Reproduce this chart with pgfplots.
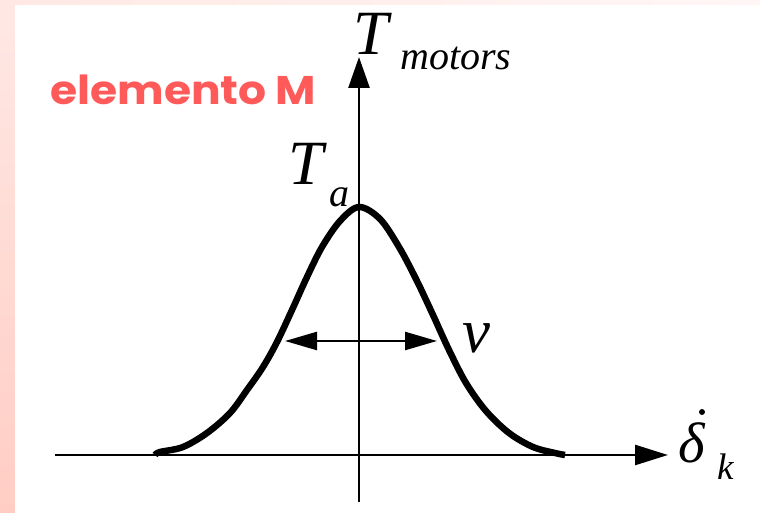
\documentclass[border=0pt]{standalone}
\usepackage{pgfplots}
\pgfplotsset{compat=1.18}
\usetikzlibrary{arrows.meta}
\usepackage{fontspec}
\setmainfont{Liberation Serif}
\newfontfamily\slidefont{Poppins}
\definecolor{slidered}{HTML}{FF5A5A}
\definecolor{pinktop}{HTML}{FFE8E4}
\definecolor{pinkbot}{HTML}{FFCDC4}
\definecolor{pinkband}{HTML}{FFF1EF}
\begin{document}
\begin{tikzpicture}
% slide background: white panel with a pink band at the top and a shaded strip on the left
\fill[white] (-55pt,-11pt) rectangle (705pt,502pt);
\shade[left color=pinktop, right color=pinkband!60!white] (-55pt,497pt) rectangle (705pt,502pt);
\shade[top color=pinktop, bottom color=pinkbot] (-55pt,-11pt) rectangle (-40pt,497pt);
\begin{axis}[
  at={(0pt,0pt)}, anchor=south west,
  x=1pt, y=1pt,
  xmin=-304, xmax=309, ymin=-47, ymax=398,
  axis lines=middle,
  xtick=\empty, ytick=\empty,
  axis line style={line width=2.6pt, black},
  x axis line style={-{Triangle[length=33pt,width=20pt]}},
  y axis line style={-{Triangle[length=31pt,width=21pt]}},
  clip=false,
]
% motor torque bell curve
\addplot[line width=6.5pt, black, smooth, tension=0.55] coordinates {
  (-204,0) (-199,3) (-176,8) (-152,22) (-129,42) (-112,65) (-96,88)
  (-82,113) (-67,145) (-52,178) (-37,208) (-19,234) (0,248)
  (21,236) (40,208) (57,176) (74,140) (90,105) (107,72) (127,44)
  (150,22) (174,8) (196,2) (206,0)
};
% width arrows
\draw[line width=2.4pt, {Triangle[length=32pt,width=18pt]}-{Triangle[length=32pt,width=18pt]}]
  (axis cs:-74,114) -- (axis cs:78,114);
% labels
\node[anchor=base west, inner sep=0, font=\fontsize{63}{63}\selectfont\itshape] at (axis cs:-6,400) {T};
\node[anchor=base west, inner sep=0, font=\fontsize{40}{40}\selectfont\itshape] at (axis cs:41,385) {motors};
\node[anchor=base west, inner sep=0, font=\fontsize{63}{63}\selectfont\itshape] at (axis cs:-71,270) {T};
\node[anchor=base west, inner sep=0, font=\fontsize{40}{40}\selectfont\itshape] at (axis cs:-30,248) {a};
\node[anchor=base west, inner sep=0, font=\fontsize{63}{63}\selectfont\itshape] at (axis cs:103,102) {ν};
\node[anchor=base west, inner sep=0, font=\fontsize{57}{57}\selectfont\itshape] at (axis cs:319,-8) {δ};
\fill (axis cs:343,43) circle[radius=3pt];
\node[anchor=base west, inner sep=0, font=\fontsize{37}{37}\selectfont\itshape] at (axis cs:358,-25) {k};
\node[anchor=base west, inner sep=0, xscale=1.1, text=slidered, font=\fontsize{40}{40}\selectfont\slidefont\bfseries] at (axis cs:-309,350) {elemento M};
\end{axis}
\pgfresetboundingbox
\useasboundingbox (-55pt,-11pt) rectangle (705pt,502pt);
\end{tikzpicture}
\end{document}
